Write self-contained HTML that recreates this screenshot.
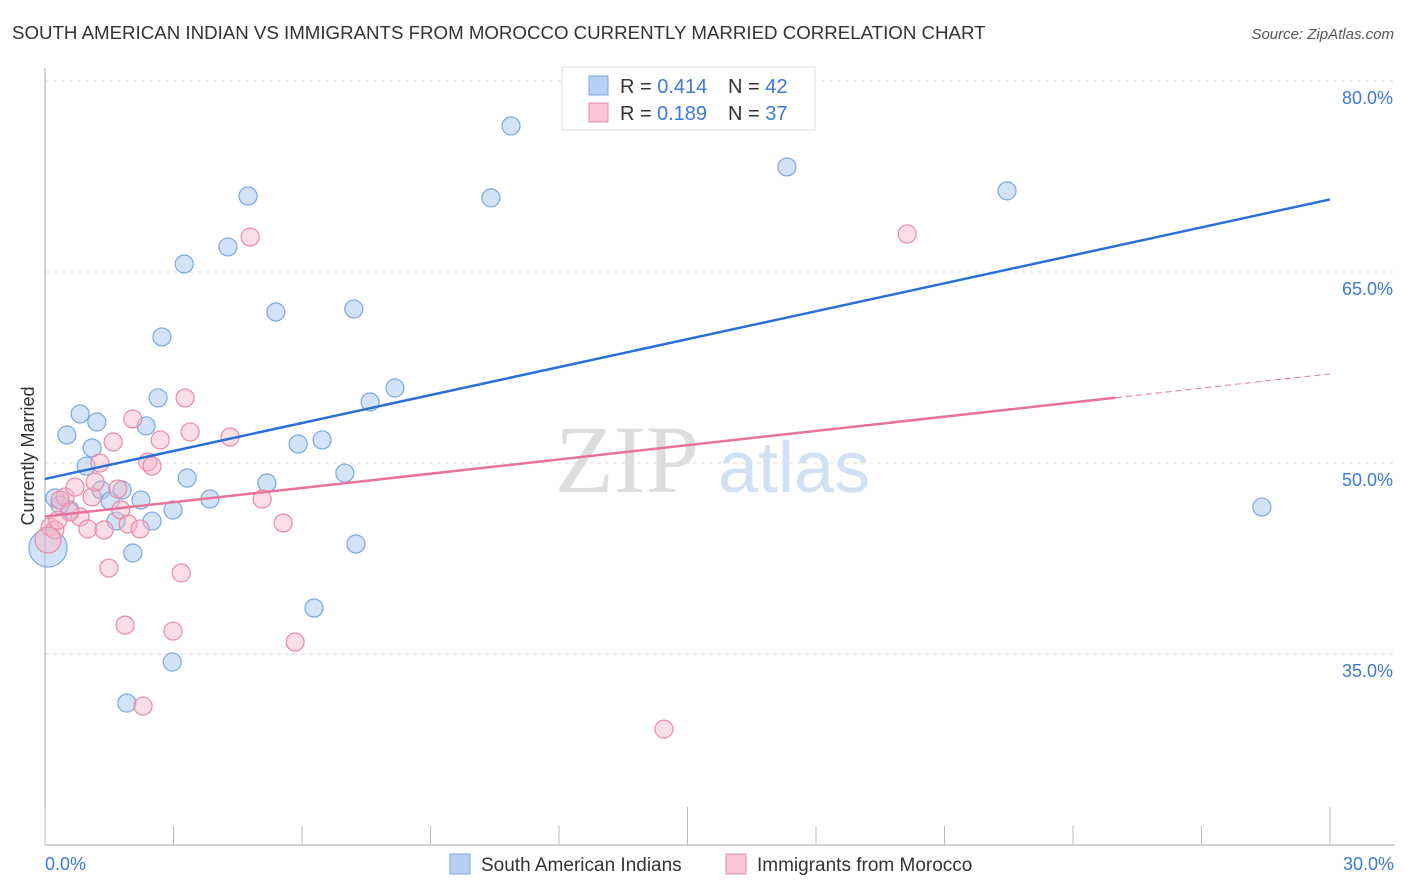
<!DOCTYPE html>
<html><head><meta charset="utf-8"><style>
body{margin:0;background:#fff;font-family:"Liberation Sans",sans-serif;}
svg{display:block}
</style></head><body>
<svg id="chart" width="1406" height="892" xmlns="http://www.w3.org/2000/svg">
<text x="12" y="39" font-size="18.7" fill="#333">SOUTH AMERICAN INDIAN VS IMMIGRANTS FROM MOROCCO CURRENTLY MARRIED CORRELATION CHART</text>
<text x="1394" y="39" font-size="15" fill="#555" font-style="italic" text-anchor="end">Source: ZipAtlas.com</text>
<g id="grid"></g>
<g id="yticks"></g>
<line x1="45" y1="68" x2="45" y2="845" stroke="#aaa"/>
<line x1="45" y1="845" x2="1395" y2="845" stroke="#aaa"/>
<g id="xticks"></g>
<text x="45" y="870" font-size="18" fill="#3d78d8">0.0%</text>
<text x="1394" y="870" font-size="18" fill="#3d78d8" text-anchor="end">30.0%</text>
<text transform="translate(34,456) rotate(-90)" font-size="18" fill="#333" text-anchor="middle">Currently Married</text>
<g><text x="555" y="492" font-size="96" fill="#ddd" font-family="Liberation Serif,serif">ZIP</text><text x="718" y="492" font-size="72" fill="#d2e0f3">atlas</text></g>
<g id="pts"></g>
<g id="lines"></g>
<g>
<rect x="562" y="67" width="253" height="63" fill="#fff" stroke="#ddd"/>
<rect x="589" y="76" width="19" height="19" fill="#b5d0f3" stroke="#7aa7e0"/>
<rect x="589" y="103" width="19" height="19" fill="#f9c6d5" stroke="#e88aa8"/>
<text x="620" y="93" font-size="20" fill="#333">R = <tspan fill="#3d78d8">0.414</tspan><tspan x="728">N = </tspan><tspan fill="#3d78d8">42</tspan></text>
<text x="620" y="120" font-size="20" fill="#333">R = <tspan x="657" fill="#3d78d8">0.189</tspan><tspan x="728">N = </tspan><tspan fill="#3d78d8">37</tspan></text>
</g>
<g>
<rect x="450" y="854" width="20" height="20" fill="#b5d0f3" stroke="#7aa7e0"/>
<text x="481" y="871" font-size="19" fill="#333">South American Indians</text>
<rect x="726" y="854" width="20" height="20" fill="#f9c6d5" stroke="#e88aa8"/>
<text x="757" y="871" font-size="19" fill="#333">Immigrants from Morocco</text>
</g>
</svg>
<script>
const yTicks=[35,50,65,80];
const yTickLabels=["35.0%","50.0%","65.0%","80.0%"];
const xTicks=[0,3,6,9,12,15,18,21,24,27,30];
const blueX=[0.23,0.51,0.82,1.10,1.21,0.96,1.31,1.52,1.66,1.80,2.05,1.91,2.24,2.36,2.50,2.64,2.73,2.97,2.99,3.25,3.32,3.85,4.27,4.74,5.18,5.39,5.91,6.28,6.47,7.00,7.21,7.26,7.59,8.17,10.41,10.88,17.32,22.46,28.41,0.07,0.58,0.35];
const blueY=[47.25,52.2,53.85,51.18,53.22,49.76,47.88,47.01,45.44,47.88,42.93,31.15,47.09,52.91,45.44,55.11,59.90,34.37,46.31,65.63,48.82,47.17,66.97,70.97,48.43,61.86,51.49,38.61,51.81,49.21,62.10,43.64,54.79,55.89,70.82,76.47,73.25,71.37,46.54,43.32,46.31,46.70];
const blueR=[9,9,9,9,9,9,9,9,9,9,9,9,9,9,9,9,9,9,9,9,9,9,9,9,9,9,9,9,9,9,9,9,9,9,9,9,9,9,9,19,9,9];
const pinkX=[0.12,0.23,0.47,0.70,0.82,1.00,1.10,1.17,1.28,1.38,1.49,1.59,1.70,1.77,1.87,1.94,2.05,2.22,2.29,2.40,2.50,2.69,2.99,3.18,3.27,3.39,4.32,4.79,5.07,5.56,5.84,14.45,20.13,0.07,0.35,0.58,0.30];
const pinkY=[44.97,44.74,47.33,48.11,45.76,44.82,47.33,48.51,50.0,44.74,41.75,51.65,47.96,46.31,37.27,45.21,53.46,44.82,30.91,50.08,49.76,51.81,36.80,41.36,55.11,52.44,52.04,67.75,47.17,45.29,35.94,29.10,67.99,43.95,47.09,46.15,45.52];
const pinkR=[9,9,9,9,9,9,9,9,9,9,9,9,9,9,9,9,9,9,9,9,9,9,9,9,9,9,9,9,9,9,9,9,9,13,9,9,9];
const blueTrend=[48.75,70.7];
const pinkTrend=[45.8,57.0];
const pinkSolidEnd=25.0;
const NS="http://www.w3.org/2000/svg";
const sx=v=>45+(v/30)*1285;
const sy=v=>463-(v-50)*12.733;
function mk(t,a,p){const e=document.createElementNS(NS,t);for(const k in a)e.setAttribute(k,a[k]);p.appendChild(e);return e;}
const grid=document.getElementById('grid'),yt=document.getElementById('yticks');
yTicks.forEach((v,i)=>{
 const l=mk('line',{x1:45,x2:1395,y1:sy(v),y2:sy(v),stroke:'#ddd','stroke-dasharray':'4,4'},grid);
 
 
 const t=mk('text',{x:1393,y:sy(v)+23,'font-size':18,fill:'#3d78d8','text-anchor':'end'},yt);
 t.textContent=yTickLabels[i];
 
 
});
const xt=document.getElementById('xticks');
xTicks.forEach(v=>{
 const big=(v===0||v===15||v===30);
 const l=mk('line',{x1:sx(v),x2:sx(v),y1:big?807:826,y2:845,stroke:'#bbb'},xt);
 
 
});
const pts=document.getElementById('pts');
blueX.forEach((x,i)=>{
 const c=mk('circle',{cx:sx(x),cy:sy(blueY[i]),r:blueR[i],fill:'rgba(168,200,240,0.5)',stroke:'#7aa7e0','stroke-width':1.2},pts);
 
 
});
pinkX.forEach((x,i)=>{
 const c=mk('circle',{cx:sx(x),cy:sy(pinkY[i]),r:pinkR[i],fill:'rgba(246,180,200,0.45)',stroke:'#e88aa8','stroke-width':1.2},pts);
 
 
});
const lines=document.getElementById('lines');
const bl=mk('line',{x1:sx(0),y1:sy(blueTrend[0]),x2:sx(30),y2:sy(blueTrend[1]),stroke:'#2a6fd6','stroke-width':2.5},lines);


const pm=pinkTrend[0]+(pinkTrend[1]-pinkTrend[0])*pinkSolidEnd/30;
const pl=mk('line',{x1:sx(0),y1:sy(pinkTrend[0]),x2:sx(pinkSolidEnd),y2:sy(pm),stroke:'#e8729a','stroke-width':2.5},lines);


const pd=mk('line',{x1:sx(pinkSolidEnd),y1:sy(pm),x2:sx(30),y2:sy(pinkTrend[1]),stroke:'#e8729a','stroke-width':1,'stroke-dasharray':'6,4'},lines);


</script>
</body></html>
